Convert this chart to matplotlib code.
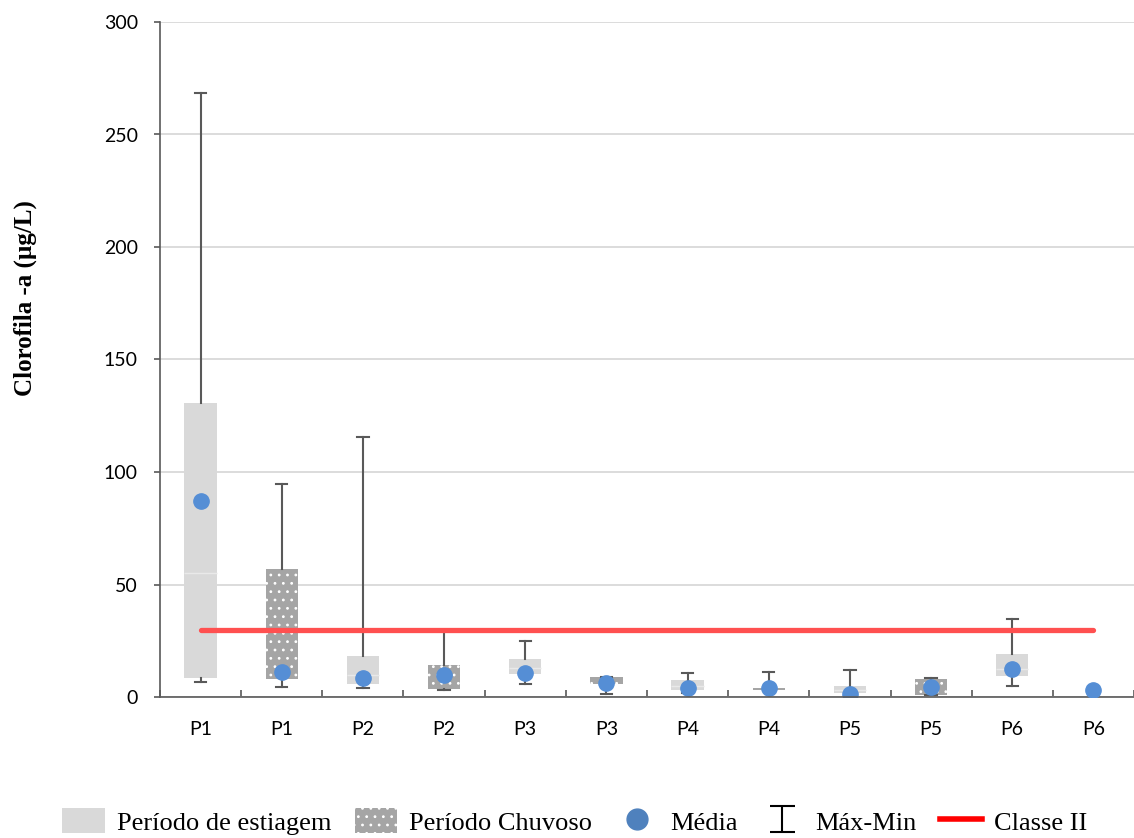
import numpy as np
import matplotlib
matplotlib.use("Agg")
import matplotlib.pyplot as plt
from matplotlib.patches import Patch
from matplotlib.lines import Line2D

# categorias no eixo x (estiagem / chuvoso alternados)
pontos = ["P1", "P1", "P2", "P2", "P3", "P3", "P4", "P4", "P5", "P5", "P6", "P6"]

# período de estiagem (P1..P6)
est_min = [6.7, 4.1, 5.9, 2.0, 0.5, 4.9]
est_q1 = [8.6, 5.6, 10.2, 3.0, 1.6, 9.2]
est_med = [55.0, 10.0, 13.0, 5.0, 3.0, 12.3]
est_q3 = [130.7, 18.4, 16.7, 7.6, 4.9, 19.1]
est_max = [268.4, 115.7, 24.9, 10.5, 12.1, 34.8]
est_media = [87.0, 8.6, 10.5, 4.1, 1.2, 12.4]

# período chuvoso (P6 só tem a média)
chu_min = [4.3, 3.1, 1.3, 2.5, 0.9, np.nan]
chu_q1 = [7.9, 3.7, 5.6, 3.0, 0.9, np.nan]
chu_med = [30.0, 8.0, 7.0, 3.5, 4.0, np.nan]
chu_q3 = [56.9, 14.1, 8.7, 3.9, 7.9, np.nan]
chu_max = [94.8, 29.3, 8.7, 11.3, 8.4, np.nan]
chu_media = [11.3, 9.6, 6.1, 4.1, 4.4, 3.1]

classe2 = 30

plt.rcParams['hatch.linewidth'] = 0.8

fig = plt.figure(figsize=(11.34, 8.38), dpi=100)
ax = fig.add_axes([160 / 1134, 1 - 697 / 838, 974 / 1134, 675 / 838])


def stats(mn, q1, med, q3, mx, media):
    out = []
    for a, b, c, d, e, f in zip(mn, q1, med, q3, mx, media):
        if np.isnan(a):
            continue
        out.append(dict(whislo=a, q1=b, med=c, q3=d, whishi=e, mean=f, fliers=[]))
    return out


pos_est = np.arange(0, 12, 2)
pos_chu = np.arange(1, 12, 2)

cinza = '#595959'
azul = '#558ed5'
comum = dict(widths=0.4, patch_artist=True, showmeans=True, showfliers=False,
             whiskerprops=dict(color=cinza, lw=1.5),
             capprops=dict(color=cinza, lw=1.5), capwidths=0.14,
             meanprops=dict(marker='o', markerfacecolor=azul, markeredgecolor=azul,
                            markersize=11))

ax.bxp(stats(est_min, est_q1, est_med, est_q3, est_max, est_media), positions=pos_est,
       boxprops=dict(facecolor='#d9d9d9', lw=0),
       medianprops=dict(color='#e9e9e9', lw=1), **comum)

ok = ~np.isnan(np.array(chu_min))
ax.bxp(stats(chu_min, chu_q1, chu_med, chu_q3, chu_max, chu_media), positions=pos_chu[ok],
       boxprops=dict(facecolor='#a5a5a5', edgecolor='white', lw=0, hatch='..'),
       medianprops=dict(color='#a5a5a5', lw=0), **comum)
# média isolada do P6 chuvoso
ax.plot(pos_chu[~ok], np.array(chu_media)[~ok], 'o', color=azul, markersize=11, zorder=4)

# limite da Classe II
ax.plot([0, 11], [classe2, classe2], color='#ff5050', lw=3.8,
        solid_capstyle='round', zorder=3)

ax.set_ylim(0, 300)
ax.set_yticks(np.arange(0, 301, 50))
ax.set_xlim(-0.5, -0.5 + 974 / 81.9)
ax.set_xticks(np.arange(12))
ax.set_xticklabels(pontos)
ax.set_xticks(np.arange(-0.5, 12, 1), minor=True)
ax.yaxis.grid(True, color='#d9d9d9', lw=1.3)
ax.set_axisbelow(True)
for s in ['top', 'right']:
    ax.spines[s].set_visible(False)
for s in ['left', 'bottom']:
    ax.spines[s].set_color(cinza)
    ax.spines[s].set_linewidth(1.2)
ax.tick_params(axis='y', direction='out', length=4, width=1.2, color=cinza,
               pad=12, labelsize=14)
ax.tick_params(axis='x', which='major', length=0, pad=17, labelsize=14)
ax.tick_params(axis='x', which='minor', direction='in', length=5, width=1.2, color=cinza)
for lb in ax.get_xticklabels() + ax.get_yticklabels():
    lb.set_fontfamily('Lato')

fig.text(25 / 1134, 1 - 298 / 838, 'Clorofila -a (µg/L)', rotation=90,
         ha='center', va='center', fontsize=18, fontweight='bold',
         family='Liberation Serif')

# legenda
eb = ax.errorbar([np.nan], [np.nan], yerr=[1], fmt='none', ecolor='black',
                 elinewidth=1.5, capsize=9, capthick=1.5)
handles = [
    Patch(facecolor='#d9d9d9', lw=0),
    Patch(facecolor='#a5a5a5', edgecolor='white', lw=0, hatch='..'),
    Line2D([], [], marker='o', color='#4f81bd', ls='', markersize=15),
    eb,
    Line2D([], [], color='red', lw=4),
]
labels = ['Período de estiagem', 'Período Chuvoso', 'Média', 'Máx-Min', 'Classe II']
fig.legend(handles, labels, loc='center', bbox_to_anchor=(0.507, 0.02), ncol=5,
           frameon=False, prop=dict(family='Liberation Serif', size=19),
           handlelength=1.6, handleheight=1.1, handletextpad=0.45,
           columnspacing=0.9, borderpad=0.2)

fig.savefig('out.png', dpi=100)
